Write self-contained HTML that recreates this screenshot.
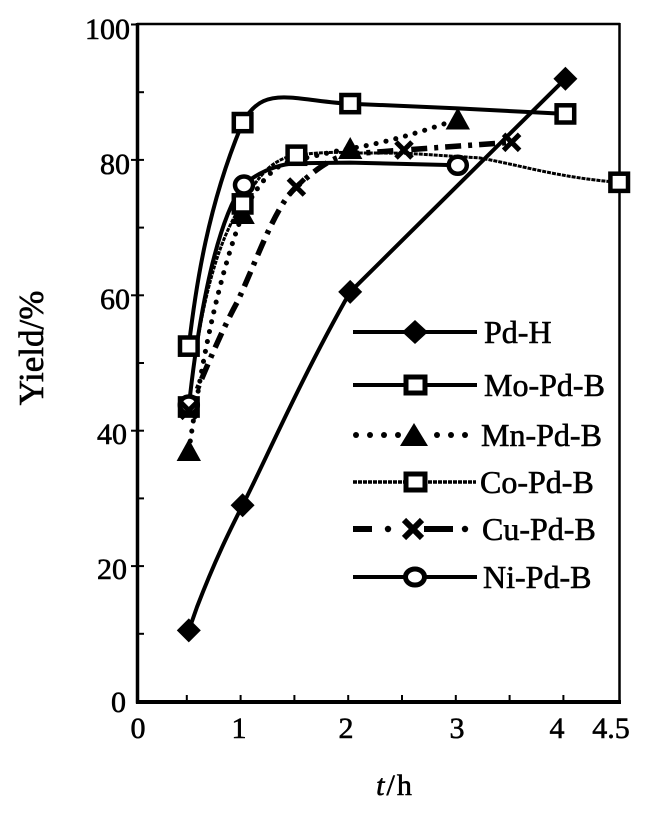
<!DOCTYPE html>
<html>
<head>
<meta charset="utf-8">
<style>
html,body{margin:0;padding:0;background:#fff;}
svg{display:block;}
text{font-family:"Liberation Serif","Times New Roman",serif;fill:#000;stroke:#000;stroke-width:0.6;}
</style>
</head>
<body>
<svg width="668" height="813" viewBox="0 0 668 813" xmlns="http://www.w3.org/2000/svg">
<rect x="0" y="0" width="668" height="813" fill="#fff"/>

<!-- frame -->
<line x1="137" y1="24" x2="620" y2="24" stroke="#000" stroke-width="2.5"/>
<line x1="619.5" y1="23" x2="619.5" y2="703" stroke="#000" stroke-width="2.5"/>
<line x1="137.5" y1="23" x2="137.5" y2="703.5" stroke="#000" stroke-width="3.5"/>
<line x1="136" y1="702" x2="621" y2="702" stroke="#000" stroke-width="4"/>

<!-- y ticks -->
<g stroke="#000" stroke-width="2">
<line x1="137" y1="633.8" x2="144" y2="633.8"/>
<line x1="131" y1="566.1" x2="144" y2="566.1"/>
<line x1="137" y1="498.4" x2="144" y2="498.4"/>
<line x1="131" y1="430.7" x2="144" y2="430.7"/>
<line x1="137" y1="363" x2="144" y2="363"/>
<line x1="131" y1="295.3" x2="144" y2="295.3"/>
<line x1="137" y1="227.6" x2="144" y2="227.6"/>
<line x1="131" y1="159.9" x2="144" y2="159.9"/>
<line x1="137" y1="92.2" x2="144" y2="92.2"/>
<line x1="131" y1="24.5" x2="137" y2="24.5"/>
</g>
<!-- x ticks -->
<g stroke="#000" stroke-width="2">
<line x1="186.8" y1="702" x2="186.8" y2="695"/>
<line x1="240.6" y1="702" x2="240.6" y2="695"/>
<line x1="294.4" y1="702" x2="294.4" y2="695"/>
<line x1="348.2" y1="702" x2="348.2" y2="695"/>
<line x1="402" y1="702" x2="402" y2="695"/>
<line x1="455.8" y1="702" x2="455.8" y2="695"/>
<line x1="509.6" y1="702" x2="509.6" y2="695"/>
<line x1="563.4" y1="702" x2="563.4" y2="695"/>
</g>

<!-- y tick labels -->
<g font-size="30" text-anchor="end">
<text x="130" y="39">100</text>
<text x="130" y="174">80</text>
<text x="130" y="309">60</text>
<text x="127" y="444">40</text>
<text x="127" y="579">20</text>
<text x="126" y="712">0</text>
</g>
<!-- x tick labels -->
<g font-size="30" text-anchor="middle">
<text x="138" y="738">0</text>
<text x="239" y="738">1</text>
<text x="346" y="738">2</text>
<text x="457" y="738">3</text>
<text x="557" y="738">4</text>
<text x="611" y="738">4.5</text>
</g>

<!-- axis titles -->
<text transform="translate(43,348) rotate(-90)" font-size="35" text-anchor="middle">Yield/%</text>
<text x="395" y="795" font-size="30" text-anchor="middle" letter-spacing="2"><tspan font-style="italic">t</tspan>/h</text>

<!-- series lines -->
<g fill="none" stroke="#000" stroke-linejoin="round">
<!-- Pd-H -->
<path d="M188.8 630.4 L197 607 C215 560 230 530 242.6 505.2 C262 468 300 380 350.2 291.9 L565.4 78.7" stroke-width="4"/>
<!-- Mo-Pd-B -->
<path d="M188.8 346.1 C196 285 208 205 242.6 122.7 C255 100 270 96 291 97.6 C310 99 330 103 350.2 103.7 L457.8 108.4 L565.4 113.9" stroke-width="4"/>
<!-- Co-Pd-B -->
<path d="M188.8 407 C196 340 210 250 242.6 203.9 C260 172 275 158 296.4 155.2 C320 152 340 152 350.2 153 L404 153.1 L479.3 157.9 C520 165 560 178 619.2 182.3" stroke-width="3" stroke-dasharray="4 1"/>
<!-- Ni-Pd-B -->
<path d="M188.8 407 C196 340 212 230 242.6 185 C262 170 280 164 296.4 163.3 L350.2 162.6 L457.8 165.3" stroke-width="4"/>
<!-- Mn-Pd-B dotted -->
<path d="M188.8 451 C195 410 210 300 242.6 214.1 C262 175 280 162 296.4 159.9 C320 155 335 151 350.2 148.5 C390 142 420 132 457.8 119.3" stroke-width="5" stroke-dasharray="0.1 10" stroke-linecap="round"/>
<!-- Cu-Pd-B dash-dot -->
<path d="M188.8 410.4 C205 370 222 330 237.2 302.1 C255 265 275 205 296.4 187 C315 170 330 158 350.2 154 L404 150 L511.6 142.3" stroke-width="5.5" stroke-dasharray="16 7 4 7"/>
</g>

<!-- markers -->
<!-- Pd-H diamonds -->
<g fill="#000">
<polygon points="188.8,618.4 200.8,630.4 188.8,642.4 176.8,630.4"/>
<polygon points="242.6,493.2 254.6,505.2 242.6,517.2 230.6,505.2"/>
<polygon points="350.2,279.9 362.2,291.9 350.2,303.9 338.2,291.9"/>
<polygon points="565.4,66.7 577.4,78.7 565.4,90.7 553.4,78.7"/>
</g>
<!-- Mn triangles -->
<g fill="#000">
<polygon points="188.8,439 201,461 176.6,461"/>
<polygon points="242.6,202 254.8,224 230.4,224"/>
<polygon points="350.2,137 362.4,159 338,159"/>
<polygon points="457.8,107.5 470,129.5 445.6,129.5"/>
</g>
<!-- squares (Mo, Co) -->
<g fill="#fff" stroke="#000" stroke-width="4.5">
<rect x="180" y="337.5" width="17.6" height="17.2"/>
<rect x="233.8" y="114" width="17.6" height="17.2"/>
<rect x="341.4" y="95" width="17.6" height="17.2"/>
<rect x="556.6" y="105.3" width="17.6" height="17.2"/>
<rect x="180" y="398.4" width="17.6" height="17.2"/>
<rect x="233.8" y="195.3" width="17.6" height="17.2"/>
<rect x="287.6" y="146.6" width="17.6" height="17.2"/>
<rect x="610.4" y="173.7" width="17.6" height="17.2"/>
</g>
<!-- Ni circles -->
<g fill="#fff" stroke="#000" stroke-width="4.5">
<ellipse cx="188.8" cy="405" rx="9" ry="8.5"/>
<ellipse cx="244" cy="185" rx="9" ry="8.5"/>
<ellipse cx="457.8" cy="165.3" rx="9" ry="8.5"/>
</g>
<!-- Cu crosses -->
<g stroke="#000" stroke-width="5" stroke-linecap="butt">
<path d="M180.8 402.4 L196.8 418.4 M196.8 402.4 L180.8 418.4"/>
<path d="M288.4 179 L304.4 195 M304.4 179 L288.4 195"/>
<path d="M396 142 L412 158 M412 142 L396 158"/>
<path d="M503.6 134.3 L519.6 150.3 M519.6 134.3 L503.6 150.3"/>
</g>

<!-- legend -->
<g>
<!-- Pd-H -->
<line x1="353" y1="332" x2="477" y2="332" stroke="#000" stroke-width="4"/>
<polygon points="415,320 428,332 415,344 402,332" fill="#000"/>
<text x="484" y="343" font-size="32">Pd-H</text>
<!-- Mo-Pd-B -->
<line x1="353" y1="385" x2="477" y2="385" stroke="#000" stroke-width="4"/>
<rect x="406" y="377" width="19" height="16" fill="#fff" stroke="#000" stroke-width="5"/>
<text x="484" y="396" font-size="32">Mo-Pd-B</text>
<!-- Mn-Pd-B -->
<g fill="#000">
<circle cx="356" cy="435" r="3"/>
<circle cx="370" cy="435" r="3"/>
<circle cx="384" cy="435" r="3"/>
<circle cx="398" cy="435" r="3"/>
<polygon points="414,423 428,446 400,446"/>
<circle cx="437" cy="435" r="3"/>
<circle cx="451" cy="435" r="3"/>
<circle cx="465" cy="435" r="3"/>
</g>
<text x="481" y="446" font-size="32">Mn-Pd-B</text>
<!-- Co-Pd-B -->
<line x1="353" y1="482" x2="476" y2="482" stroke="#000" stroke-width="3.5" stroke-dasharray="4 1"/>
<rect x="406" y="474" width="19" height="16" fill="#fff" stroke="#000" stroke-width="5"/>
<text x="480" y="493" font-size="32">Co-Pd-B</text>
<!-- Cu-Pd-B -->
<line x1="353" y1="529" x2="372" y2="529" stroke="#000" stroke-width="6"/>
<circle cx="388" cy="529" r="3.2"/>
<path d="M404 520 L422 538 M422 520 L404 538" stroke="#000" stroke-width="6"/>
<line x1="424" y1="529" x2="453" y2="529" stroke="#000" stroke-width="6"/>
<circle cx="465" cy="529" r="3.2"/>
<text x="482" y="540" font-size="32">Cu-Pd-B</text>
<!-- Ni-Pd-B -->
<line x1="353" y1="577" x2="477" y2="577" stroke="#000" stroke-width="4"/>
<ellipse cx="415" cy="577" rx="9.5" ry="8" fill="#fff" stroke="#000" stroke-width="5"/>
<text x="483" y="588" font-size="32">Ni-Pd-B</text>
</g>
</svg>
</body>
</html>
